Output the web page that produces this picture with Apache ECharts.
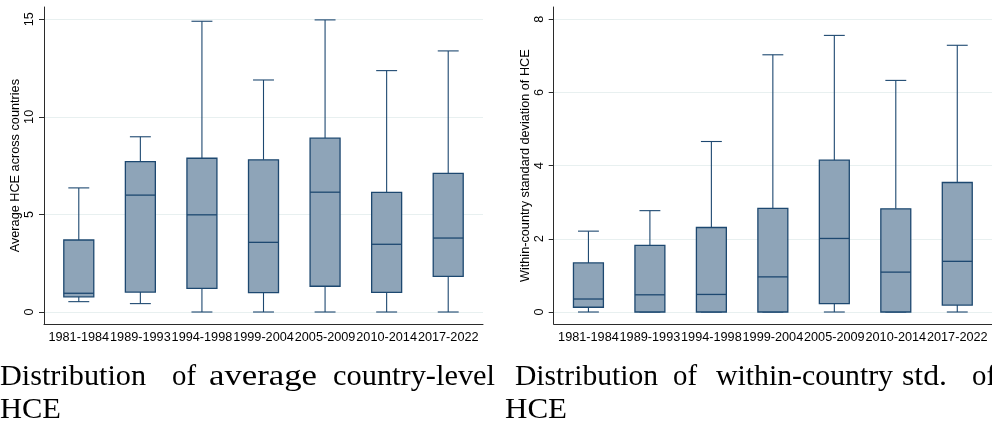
<!DOCTYPE html>
<html>
<head>
<meta charset="utf-8">
<script src="https://cdn.jsdelivr.net/npm/echarts@6/dist/echarts.min.js"></script>
<style>
  html, body { margin: 0; padding: 0; background: #ffffff; }
  #chart { width: 992px; height: 423px; }
</style>
</head>
<body>
<div id="chart"></div>
<script>
// Period categories shared by both panels
const periods = ['1981-1984', '1989-1993', '1994-1998', '1999-2004', '2005-2009', '2010-2014', '2017-2022'];

// Panel (a): average country-level HCE (box-plot five-number summaries)
const avgLow    = [0.53, 0.43, 0.00, 0.00, 0.00, 0.00, 0.00];
const avgQ1     = [0.78, 1.02, 1.21, 0.99, 1.32, 1.01, 1.83];
const avgMedian = [0.96, 5.99, 4.98, 3.57, 6.14, 3.47, 3.79];
const avgQ3     = [3.69, 7.71, 7.88, 7.80, 8.91, 6.13, 7.10];
const avgHigh   = [6.36, 8.98, 14.90, 11.89, 14.97, 12.37, 13.38];

// Panel (b): within-country standard deviation of HCE
const sdLow    = [0.00, 0.00, 0.00, 0.00, 0.00, 0.00, 0.00];
const sdQ1     = [0.13, 0.00, 0.00, 0.00, 0.23, 0.00, 0.19];
const sdMedian = [0.355, 0.47, 0.48, 0.96, 2.01, 1.09, 1.385];
const sdQ3     = [1.34, 1.82, 2.31, 2.83, 4.15, 2.82, 3.54];
const sdHigh   = [2.21, 2.77, 4.66, 7.03, 7.56, 6.33, 7.29];

// Y-axis tick settings
const avgTicks = { min: 0, max: 15, interval: 5 };
const sdTicks  = { min: 0, max: 8, interval: 2 };

const boxFill = '#8ea4b8';
const boxLine = '#1d4870';
const axisColor = '#2b2b2b';
const gridColor = '#e8f0f0';
const sansFont = 'Liberation Sans, Arial, sans-serif';
const serifFont = 'Liberation Serif, Times New Roman, serif';
const captionSize = 30;

function toRows(lo, q1, med, q3, hi) {
  return periods.map((p, i) => [i, lo[i], q1[i], med[i], q3[i], hi[i]]);
}

// Stata-style box: filled IQR box, median bar, whiskers with short caps
function renderBox(params, api) {
  const i = api.value(0);
  const pLo = api.coord([i, api.value(1)]);
  const pQ1 = api.coord([i, api.value(2)]);
  const pMed = api.coord([i, api.value(3)]);
  const pQ3 = api.coord([i, api.value(4)]);
  const pHi = api.coord([i, api.value(5)]);
  const band = api.size([1, 0])[0];
  const bw = band * 0.487;
  const cw = band * 0.34;
  const x = pLo[0];
  const lineStyle = { stroke: boxLine, lineWidth: 1.1 };
  return {
    type: 'group',
    children: [
      { type: 'line', shape: { x1: x, y1: pHi[1], x2: x, y2: pQ3[1] }, style: lineStyle },
      { type: 'line', shape: { x1: x - cw / 2, y1: pHi[1], x2: x + cw / 2, y2: pHi[1] }, style: lineStyle },
      { type: 'line', shape: { x1: x, y1: pQ1[1], x2: x, y2: pLo[1] }, style: lineStyle },
      { type: 'line', shape: { x1: x - cw / 2, y1: pLo[1], x2: x + cw / 2, y2: pLo[1] }, style: lineStyle },
      { type: 'rect', shape: { x: x - bw / 2, y: pQ3[1], width: bw, height: pQ1[1] - pQ3[1] },
        style: { fill: boxFill, stroke: boxLine, lineWidth: 1.3 } },
      { type: 'line', shape: { x1: x - bw / 2, y1: pMed[1], x2: x + bw / 2, y2: pMed[1] },
        style: { stroke: boxLine, lineWidth: 1.3 } }
    ]
  };
}

// Panel geometry: data area and the surrounding axis frame
const panelLefts = [44, 553.7];
const plotWidth = 439;
const dataTop = 19.3, dataHeight = 292.7;
const frameTop = 7, frameHeight = 317;

const grids = [];
panelLefts.forEach(left => {
  grids.push({ left: left, top: dataTop, width: plotWidth, height: dataHeight, containLabel: false });
  grids.push({ left: left, top: frameTop, width: plotWidth, height: frameHeight, containLabel: false });
});

function dataXAxis(gridIndex) {
  return {
    type: 'value', gridIndex: gridIndex, min: -0.565, max: 6.565, position: 'bottom',
    axisLine: { show: false, onZero: false }, axisTick: { show: false }, splitLine: { show: false },
    axisLabel: {
      show: true, customValues: periods.map((p, i) => i),
      formatter: v => periods[Math.round(v)] || '',
      margin: 19, fontSize: 12.7, color: '#000', fontFamily: sansFont
    }
  };
}
function frameAxis(gridIndex, pos) {
  return {
    type: 'value', gridIndex: gridIndex, min: 0, max: 1, position: pos,
    axisLine: { show: true, onZero: false, lineStyle: { color: axisColor, width: 1 } },
    axisTick: { show: false }, axisLabel: { show: false }, splitLine: { show: false }
  };
}
function dataYAxis(gridIndex, ticks, title) {
  return {
    type: 'value', gridIndex: gridIndex, min: ticks.min, max: ticks.max, interval: ticks.interval,
    position: 'left',
    name: title, nameLocation: 'middle', nameGap: 21,
    nameTextStyle: { fontSize: 12.7, color: '#000', fontFamily: sansFont },
    axisLine: { show: false, onZero: false },
    axisTick: { show: true, length: 5, lineStyle: { color: axisColor, width: 1 } },
    axisLabel: { rotate: 90, margin: 8, fontSize: 12.7, color: '#000', fontFamily: sansFont },
    splitLine: { show: true, lineStyle: { color: gridColor, width: 1 } }
  };
}

// Caption words: [text, left, line centre, width the word spans]
const captionLine1Y = 377, captionLine2Y = 410;
const captionWords = [
  ['Distribution', 0, captionLine1Y, 146], ['of', 172, captionLine1Y, 24], ['average', 209, captionLine1Y, 108], ['country-level', 333, captionLine1Y, 162],
  ['HCE', 0, captionLine2Y, 61],
  ['Distribution', 515, captionLine1Y, 143], ['of', 673, captionLine1Y, 24], ['within-country', 716, captionLine1Y, 177], ['std.', 902, captionLine1Y, 45], ['of', 972, captionLine1Y, 24],
  ['HCE', 505, captionLine2Y, 62]
];
const measureCtx = document.createElement('canvas').getContext('2d');
measureCtx.font = captionSize + 'px ' + serifFont;

const chart = echarts.init(document.getElementById('chart'), null, { renderer: 'canvas' });
chart.setOption({
  animation: false,
  backgroundColor: '#ffffff',
  grid: grids,
  xAxis: [dataXAxis(0), frameAxis(1, 'bottom'), dataXAxis(2), frameAxis(3, 'bottom')],
  yAxis: [
    dataYAxis(0, avgTicks, 'Average HCE across countries'),
    frameAxis(1, 'left'),
    dataYAxis(2, sdTicks, 'Within-country standard deviation of HCE'),
    frameAxis(3, 'left')
  ],
  series: [
    { type: 'custom', xAxisIndex: 0, yAxisIndex: 0, renderItem: renderBox, clip: false,
      data: toRows(avgLow, avgQ1, avgMedian, avgQ3, avgHigh) },
    { type: 'custom', xAxisIndex: 2, yAxisIndex: 2, renderItem: renderBox, clip: false,
      data: toRows(sdLow, sdQ1, sdMedian, sdQ3, sdHigh) }
  ],
  graphic: captionWords.map(w => {
    const natural = measureCtx.measureText(w[0]).width || w[3];
    return {
      type: 'text', x: w[1], y: w[2], scaleX: w[3] / natural, silent: true,
      style: { text: w[0], font: captionSize + 'px ' + serifFont, fill: '#000',
               align: 'left', verticalAlign: 'middle' }
    };
  })
});
</script>
</body>
</html>
